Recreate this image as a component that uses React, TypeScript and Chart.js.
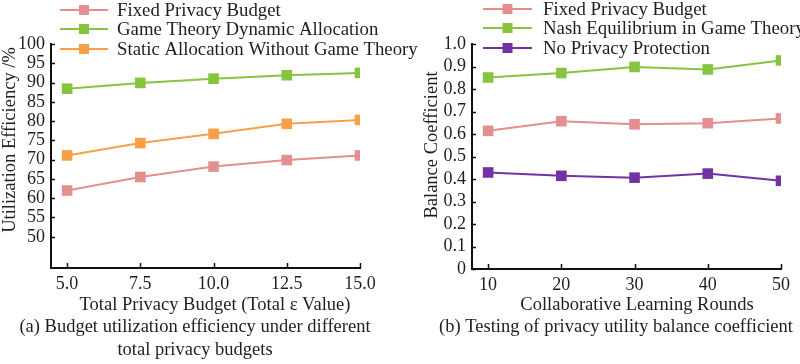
import React, { useEffect, useRef } from "react";
import { Chart, registerables } from "chart.js";

Chart.register(...registerables);

// Panel (a): budget utilization efficiency
const budgetTotals = [5.0, 7.5, 10.0, 12.5, 15.0];
const fixedBudgetEff = [62.0, 65.5, 68.2, 69.9, 71.1];
const gameDynamicEff = [88.4, 89.9, 91.0, 91.9, 92.5];
const staticNoGameEff = [71.1, 74.3, 76.7, 79.3, 80.3];
const effTicks = [50, 55, 60, 65, 70, 75, 80, 85, 90, 95, 100];

// Panel (b): privacy utility balance coefficient
const rounds = [10, 20, 30, 40, 50];
const fixedBudgetBal = [0.614, 0.657, 0.643, 0.648, 0.669];
const nashBal = [0.851, 0.871, 0.898, 0.887, 0.927];
const noProtectBal = [0.429, 0.414, 0.406, 0.424, 0.392];
const balTicks = [0, 0.1, 0.2, 0.3, 0.4, 0.5, 0.6, 0.7, 0.8, 0.9, 1.0];

const PINK = "#e48f8f";
const GREEN = "#86c440";
const ORANGE = "#f7a048";
const PURPLE = "#7232a4";
const AXIS = "#111111";
const TEXT = "#1e1e1e";
const FONT = '"Liberation Serif", "Times New Roman", serif';

type TextItem = { text: string; x: number; y: number; rotate?: boolean };
type DecorOpts = {
  legendYs: number[];
  legendLine: [number, number];
  legendTextX: number;
  texts: TextItem[];
};

// Draws inward tick marks, the line+marker legend and the free text labels.
const decorPlugin = {
  id: "decor",
  afterDraw(chart: any, _args: any, opts: DecorOpts) {
    const ctx: CanvasRenderingContext2D = chart.ctx;
    const area = chart.chartArea;
    const xs = chart.scales.x;
    const ys = chart.scales.y;
    ctx.save();

    ctx.strokeStyle = AXIS;
    ctx.lineWidth = 1.5;
    xs.ticks.forEach((t: any) => {
      const px = Math.round(xs.getPixelForValue(t.value)) + 0.5;
      ctx.beginPath();
      ctx.moveTo(px, area.bottom);
      ctx.lineTo(px, area.bottom - 5);
      ctx.stroke();
    });
    ys.ticks.forEach((t: any) => {
      const py = Math.round(ys.getPixelForValue(t.value)) + 0.5;
      ctx.beginPath();
      ctx.moveTo(area.left, py);
      ctx.lineTo(area.left + 4, py);
      ctx.stroke();
    });

    ctx.font = `18.8px ${FONT}`;
    ctx.textBaseline = "middle";
    chart.data.datasets.forEach((ds: any, i: number) => {
      const y = opts.legendYs[i];
      const [x0, x1] = opts.legendLine;
      ctx.strokeStyle = ds.borderColor;
      ctx.lineWidth = 2;
      ctx.beginPath();
      ctx.moveTo(x0, y);
      ctx.lineTo(x1, y);
      ctx.stroke();
      ctx.fillStyle = ds.pointBackgroundColor;
      const mx = (x0 + x1) / 2;
      ctx.fillRect(mx - 5, y - 5, 10, 10);
      ctx.fillStyle = TEXT;
      ctx.textAlign = "left";
      ctx.fillText(ds.label, opts.legendTextX, y + 1);
    });

    ctx.font = `18.5px ${FONT}`;
    ctx.fillStyle = TEXT;
    ctx.textAlign = "center";
    opts.texts.forEach((t) => {
      if (t.rotate) {
        ctx.save();
        ctx.translate(t.x, t.y);
        ctx.rotate(-Math.PI / 2);
        ctx.fillText(t.text, 0, 0);
        ctx.restore();
      } else {
        ctx.fillText(t.text, t.x, t.y);
      }
    });
    ctx.restore();
  },
};

function lineSet(label: string, xs: number[], ys: number[], color: string) {
  return {
    label,
    data: xs.map((x, i) => ({ x, y: ys[i] })),
    borderColor: color,
    backgroundColor: color,
    pointBackgroundColor: color,
    pointBorderColor: color,
    borderWidth: 2,
    pointStyle: "rect",
    pointRadius: 7.5,
    pointBorderWidth: 0,
    tension: 0,
  };
}

function makeConfig(p: {
  datasets: any[];
  xMin: number;
  xMax: number;
  xTicks: number[];
  xFmt: (v: number) => string;
  yMin: number;
  yMax: number;
  yTicks: number[];
  yFmt: (v: number) => string;
  yWidth: number;
  xHeight: number;
  padRight: number;
  decor: DecorOpts;
}) {
  const tickFont = { family: FONT, size: 18 };
  return {
    type: "line",
    data: { datasets: p.datasets },
    plugins: [decorPlugin],
    options: {
      responsive: false,
      animation: false,
      layout: { padding: { left: 0, top: 44, right: p.padRight, bottom: 0 } },
      plugins: {
        legend: { display: false },
        tooltip: { enabled: false },
        decor: p.decor,
      },
      scales: {
        x: {
          type: "linear",
          min: p.xMin,
          max: p.xMax,
          afterBuildTicks: (s: any) => {
            s.ticks = p.xTicks.map((v) => ({ value: v }));
          },
          afterFit: (s: any) => {
            s.height = p.xHeight;
          },
          grid: { display: false, drawTicks: false },
          border: { display: true, color: AXIS, width: 2 },
          ticks: {
            color: TEXT,
            font: tickFont,
            padding: 5,
            maxRotation: 0,
            autoSkip: false,
            callback: (v: any) => p.xFmt(Number(v)),
          },
        },
        y: {
          type: "linear",
          min: p.yMin,
          max: p.yMax,
          afterBuildTicks: (s: any) => {
            s.ticks = p.yTicks.map((v) => ({ value: v }));
          },
          afterFit: (s: any) => {
            s.width = p.yWidth;
          },
          grid: { display: false, drawTicks: false },
          border: { display: true, color: AXIS, width: 2 },
          ticks: {
            color: TEXT,
            font: tickFont,
            padding: 6,
            autoSkip: false,
            callback: (v: any) => p.yFmt(Number(v)),
          },
        },
      },
    },
  };
}

export default function App() {
  const leftRef = useRef<HTMLCanvasElement>(null);
  const rightRef = useRef<HTMLCanvasElement>(null);

  useEffect(() => {
    const left = new Chart(
      leftRef.current as HTMLCanvasElement,
      makeConfig({
        datasets: [
          lineSet("Fixed Privacy Budget", budgetTotals, fixedBudgetEff, PINK),
          lineSet("Game Theory Dynamic Allocation", budgetTotals, gameDynamicEff, GREEN),
          lineSet("Static Allocation Without Game Theory", budgetTotals, staticNoGameEff, ORANGE),
        ],
        xMin: 4.45,
        xMax: 15,
        xTicks: budgetTotals,
        xFmt: (v) => v.toFixed(1),
        yMin: 41.9,
        yMax: 100,
        yTicks: effTicks,
        yFmt: (v) => String(v),
        yWidth: 51,
        xHeight: 96,
        padRight: 70,
        decor: {
          legendYs: [10, 29, 49],
          legendLine: [60, 108],
          legendTextX: 117,
          texts: [
            { text: "Total Privacy Budget (Total ε Value)", x: 215, y: 305 },
            { text: "(a) Budget utilization efficiency under different", x: 195, y: 327 },
            { text: "total privacy budgets", x: 195, y: 350 },
            { text: "Utilization Efficiency /%", x: 10, y: 140, rotate: true },
          ],
        },
      }) as any
    );

    const right = new Chart(
      rightRef.current as HTMLCanvasElement,
      makeConfig({
        datasets: [
          lineSet("Fixed Privacy Budget", rounds, fixedBudgetBal, PINK),
          lineSet("Nash Equilibrium in Game Theory", rounds, nashBal, GREEN),
          lineSet("No Privacy Protection", rounds, noProtectBal, PURPLE),
        ],
        xMin: 7.8,
        xMax: 50,
        xTicks: rounds,
        xFmt: (v) => String(v),
        yMin: 0,
        yMax: 1,
        yTicks: balTicks,
        yFmt: (v) => (v === 0 ? "0" : v.toFixed(1)),
        yWidth: 52,
        xHeight: 95,
        padRight: 19,
        decor: {
          legendYs: [9, 28, 48],
          legendLine: [63, 112],
          legendTextX: 123,
          texts: [
            { text: "Collaborative Learning Rounds", x: 217, y: 305 },
            { text: "(b) Testing of privacy utility balance coefficient", x: 196, y: 327 },
            { text: "Balance Coefficient", x: 12, y: 145, rotate: true },
          ],
        },
      }) as any
    );

    return () => {
      left.destroy();
      right.destroy();
    };
  }, []);

  return (
    <div
      style={{
        position: "absolute",
        left: 0,
        top: 0,
        width: 800,
        height: 364,
        background: "#ffffff",
        overflow: "hidden",
      }}
    >
      <canvas
        ref={leftRef}
        width={430}
        height={364}
        style={{ position: "absolute", left: 0, top: 0, width: 430, height: 364 }}
      />
      <canvas
        ref={rightRef}
        width={380}
        height={364}
        style={{ position: "absolute", left: 420, top: 0, width: 380, height: 364 }}
      />
    </div>
  );
}
